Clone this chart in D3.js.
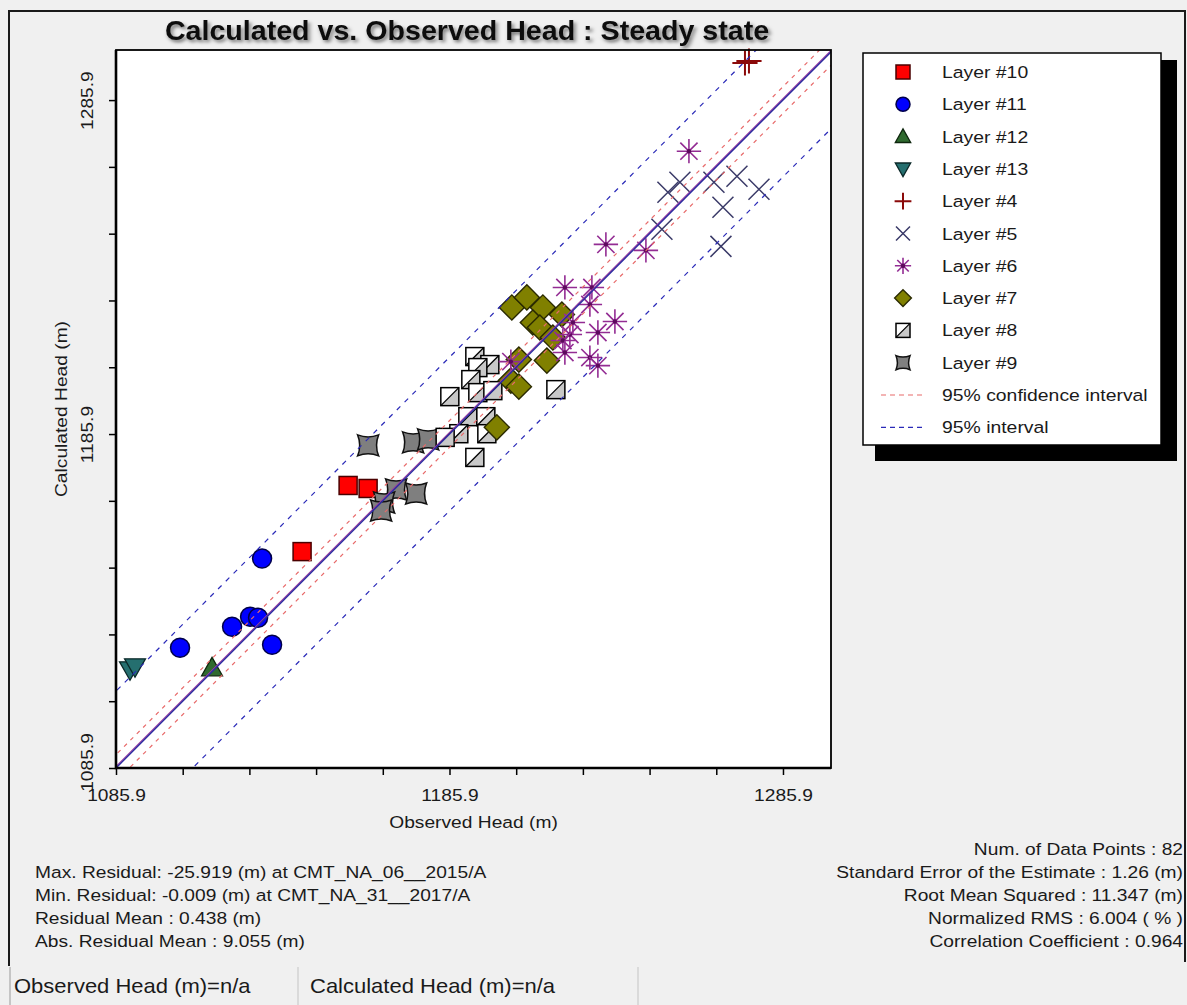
<!DOCTYPE html>
<html>
<head>
<meta charset="utf-8">
<script src="https://cdn.jsdelivr.net/npm/d3@7"></script>
<style>
  body { margin: 0; background: #f0f0f0; }
  svg text { font-family: Arial, "Liberation Sans", sans-serif; fill: #1a1a1a; }
</style>
</head>
<body>
<div id="chart"></div>
<script>
// observed / calculated head pairs, per layer
const layer10 = [[1155.5, 1170.5], [1161.5, 1169.6], [1141.7, 1150.7]];
const layer11 = [[1129.7, 1148.6], [1126.1, 1131.2], [1128.5, 1130.9], [1120.7, 1128.2], [1132.7, 1122.8], [1105.1, 1121.9]];
const layer12 = [[1114.7, 1115.9]];
const layer13 = [[1090.1, 1115.3], [1091.6, 1116.2]];
const layer4 = [[1274.5, 1297.0], [1275.7, 1297.6]];
const layer5 = [[1251.4, 1258.3], [1255.0, 1261.3], [1265.2, 1261.3], [1272.1, 1263.1], [1278.7, 1259.2],
                [1267.9, 1253.8], [1249.6, 1247.2], [1267.3, 1242.1]];
const layer6 = [[1257.7, 1270.6], [1232.8, 1242.7], [1244.8, 1240.9], [1220.5, 1229.8], [1228.6, 1229.8],
                [1228.0, 1224.7], [1235.5, 1219.6], [1222.9, 1219.3], [1230.4, 1216.3], [1222.0, 1215.7],
                [1219.9, 1213.9], [1220.5, 1210.3], [1228.0, 1208.8], [1230.4, 1206.4], [1204.3, 1207.6]];
const layer7 = [[1204.6, 1223.8], [1209.1, 1226.8], [1213.9, 1223.8], [1219.6, 1221.7], [1210.9, 1219.3],
                [1213.0, 1217.8], [1216.9, 1214.8], [1215.1, 1207.9], [1206.7, 1208.2], [1204.3, 1201.9],
                [1206.7, 1200.1], [1200.1, 1187.9]];
const layer8 = [[1193.5, 1209.1], [1198.0, 1206.7], [1194.4, 1205.8], [1192.3, 1202.2], [1194.4, 1198.3],
                [1198.9, 1198.9], [1186.0, 1197.1], [1217.8, 1199.2], [1191.4, 1191.1], [1196.8, 1191.1],
                [1188.7, 1186.0], [1184.6, 1184.9], [1197.1, 1186.0], [1193.5, 1178.9]];
const layer9 = [[1161.5, 1182.5], [1175.0, 1183.4], [1179.5, 1184.3], [1169.9, 1169.3], [1175.9, 1168.1],
                [1166.3, 1165.4], [1165.4, 1163.0]];

const legendNames = ["Layer #10", "Layer #11", "Layer #12", "Layer #13", "Layer #4", "Layer #5",
                     "Layer #6", "Layer #7", "Layer #8", "Layer #9"];
const lineNames = ["95% confidence interval", "95% interval"];

const axisMin = 1085.9;
const xMax = 1300.3;
const yMax = 1300.9;
const tickValues = [1085.9, 1105.9, 1125.9, 1145.9, 1165.9, 1185.9, 1205.9, 1225.9, 1245.9, 1265.9, 1285.9];
const tickLabels = ["1085.9", "1185.9", "1285.9"];
const ciOffsets = [-4, 4];
const piOffsets = [-23, 23];

const leftStats = [
  "Max. Residual: -25.919 (m) at CMT_NA_06__2015/A",
  "Min. Residual: -0.009 (m) at CMT_NA_31__2017/A",
  "Residual Mean : 0.438 (m)",
  "Abs. Residual Mean : 9.055 (m)"
];
const rightStats = [
  "Num. of Data Points : 82",
  "Standard Error of the Estimate : 1.26 (m)",
  "Root Mean Squared : 11.347 (m)",
  "Normalized RMS : 6.004 ( % )",
  "Correlation Coefficient : 0.964"
];
const statusItems = ["Observed Head (m)=n/a", "Calculated Head (m)=n/a"];

const W = 1187, H = 1005;
const plot = { left: 116, top: 50, right: 831, bottom: 768 };
const SX = 1.13; // screenshot text is a bit wider than Arial

const svg = d3.select("#chart").append("svg")
  .attr("width", W)
  .attr("height", H);

const defs = svg.append("defs");
const shadow = defs.append("filter").attr("id", "tshadow")
  .attr("x", "-5%").attr("y", "-30%").attr("width", "110%").attr("height", "160%");
shadow.append("feDropShadow")
  .attr("dx", 2).attr("dy", 2.5).attr("stdDeviation", 1.8)
  .attr("flood-color", "#000").attr("flood-opacity", 0.5);
defs.append("clipPath").attr("id", "plotclip")
  .append("rect")
  .attr("x", plot.left).attr("y", plot.top)
  .attr("width", plot.right - plot.left).attr("height", plot.bottom - plot.top);

function label(parent, x, y, str, opt = {}) {
  const rot = opt.rot ? ` rotate(${opt.rot})` : "";
  return parent.append("text")
    .attr("transform", `translate(${x},${y})${rot} scale(${opt.sx || SX},1)`)
    .attr("text-anchor", opt.anchor || "start")
    .style("font-size", (opt.size || 17) + "px")
    .style("font-weight", opt.weight || "normal")
    .text(str);
}

// outer window frame
svg.append("path")
  .attr("d", "M9,966 V11 H1185 V962")
  .attr("fill", "none")
  .attr("stroke", "#1a1a1a")
  .attr("stroke-width", 2);

// title
label(svg, 467, 40, "Calculated vs. Observed Head : Steady state",
  { anchor: "middle", size: 27, weight: "bold", sx: 1.06 })
  .attr("filter", "url(#tshadow)")
  .style("fill", "#111");

const x = d3.scaleLinear().domain([axisMin, xMax]).range([plot.left, plot.right]);
const y = d3.scaleLinear().domain([axisMin, yMax]).range([plot.bottom, plot.top]);

svg.append("rect")
  .attr("x", plot.left).attr("y", plot.top)
  .attr("width", plot.right - plot.left).attr("height", plot.bottom - plot.top)
  .attr("fill", "#fff");

// axes
const fmt = d => { const s = d.toFixed(1); return tickLabels.includes(s) ? s : ""; };

const xAxis = svg.append("g")
  .attr("transform", `translate(0,${plot.bottom})`)
  .call(d3.axisBottom(x).tickValues(tickValues).tickSize(7).tickFormat(fmt));
xAxis.selectAll("text")
  .attr("y", 0).attr("dy", 0)
  .attr("transform", `translate(0,33) scale(${SX},1)`)
  .style("font-size", "17px")
  .style("font-family", "Arial, 'Liberation Sans', sans-serif")
  .attr("fill", "#1a1a1a");

const yAxis = svg.append("g")
  .attr("transform", `translate(${plot.left},0)`)
  .call(d3.axisLeft(y).tickValues(tickValues).tickSize(7).tickFormat(fmt));
yAxis.selectAll("text")
  .attr("x", 0).attr("dy", 0)
  .attr("text-anchor", "middle")
  .attr("transform", d => `translate(-23,${d < 1100 ? -6 : 0}) rotate(-90) scale(${SX},1)`)
  .style("font-size", "17px")
  .style("font-family", "Arial, 'Liberation Sans', sans-serif")
  .attr("fill", "#1a1a1a");

[xAxis, yAxis].forEach(a => {
  a.select(".domain").remove();
  a.selectAll(".tick line").attr("stroke", "#000").attr("stroke-width", 1.5);
});

label(svg, (plot.left + plot.right) / 2, 828, "Observed Head (m)", { anchor: "middle" });
label(svg, 67, (plot.top + plot.bottom) / 2, "Calculated Head (m)", { anchor: "middle", rot: -90 });

// marker shapes
const shapes = {
  "Layer #10": (g, s) => g.append("rect")
    .attr("x", -s / 2).attr("y", -s / 2).attr("width", s).attr("height", s)
    .attr("fill", "#ff0000").attr("stroke", "#4a0000").attr("stroke-width", 1.5),
  "Layer #11": (g, s) => g.append("circle")
    .attr("r", s / 2)
    .attr("fill", "#0000ff").attr("stroke", "#00004a").attr("stroke-width", 1.5),
  "Layer #12": (g, s) => g.append("path")
    .attr("d", `M0,${-s * 0.55}L${s * 0.55},${s * 0.42}L${-s * 0.55},${s * 0.42}Z`)
    .attr("fill", "#2f6a2f").attr("stroke", "#0d260d").attr("stroke-width", 1.3),
  "Layer #13": (g, s) => g.append("path")
    .attr("d", `M0,${s * 0.55}L${s * 0.55},${-s * 0.42}L${-s * 0.55},${-s * 0.42}Z`)
    .attr("fill", "#256f6f").attr("stroke", "#0b2828").attr("stroke-width", 1.3),
  "Layer #4": (g, s) => g.append("path")
    .attr("d", `M${-s * 0.6},0H${s * 0.6}M0,${-s * 0.6}V${s * 0.6}`)
    .attr("stroke", "#8b0a0a").attr("stroke-width", 2).attr("fill", "none"),
  "Layer #5": (g, s) => g.append("path")
    .attr("d", `M${-s * 0.5},${-s * 0.5}L${s * 0.5},${s * 0.5}M${-s * 0.5},${s * 0.5}L${s * 0.5},${-s * 0.5}`)
    .attr("stroke", "#3a3a68").attr("stroke-width", 1.5).attr("fill", "none"),
  "Layer #6": (g, s) => {
    const r = s * 0.58, d = r * 0.7071;
    g.append("path")
      .attr("d", `M${-r},0H${r}M0,${-r}V${r}M${-d},${-d}L${d},${d}M${-d},${d}L${d},${-d}`)
      .attr("stroke", "#932c93").attr("stroke-width", 1.6).attr("fill", "none");
    g.append("circle").attr("r", 2.2).attr("fill", "#5c0a5c");
  },
  "Layer #7": (g, s) => g.append("path")
    .attr("d", `M0,${-s * 0.6}L${s * 0.6},0L0,${s * 0.6}L${-s * 0.6},0Z`)
    .attr("fill", "#808000").attr("stroke", "#2a2a00").attr("stroke-width", 1.4),
  "Layer #8": (g, s) => {
    const h = s / 2;
    g.append("rect").attr("x", -h).attr("y", -h).attr("width", s).attr("height", s)
      .attr("fill", "#fff");
    g.append("path").attr("d", `M${-h},${h}L${h},${-h}L${h},${h}Z`).attr("fill", "#c8c8c8");
    g.append("path").attr("d", `M${-h},${h}L${h},${-h}`).attr("stroke", "#000").attr("stroke-width", 1.3);
    g.append("rect").attr("x", -h).attr("y", -h).attr("width", s).attr("height", s)
      .attr("fill", "none").attr("stroke", "#000").attr("stroke-width", 1.5);
  },
  "Layer #9": (g, s) => {
    const h = s / 2, c = h * 0.6;
    g.append("path")
      .attr("d", `M${-h},${-h}Q0,${-c} ${h},${-h}Q${c},0 ${h},${h}Q0,${c} ${-h},${h}Q${-c},0 ${-h},${-h}Z`)
      .attr("fill", "#7f7f7f").attr("stroke", "#111").attr("stroke-width", 1.5);
  }
};

const series = [
  ["Layer #13", layer13], ["Layer #12", layer12], ["Layer #11", layer11], ["Layer #10", layer10],
  ["Layer #9", layer9], ["Layer #8", layer8], ["Layer #7", layer7], ["Layer #6", layer6],
  ["Layer #5", layer5], ["Layer #4", layer4]
];
const markerSize = { "Layer #10": 18, "Layer #11": 19, "Layer #12": 19, "Layer #13": 19, "Layer #4": 21,
  "Layer #5": 21, "Layer #6": 21, "Layer #7": 21, "Layer #8": 18, "Layer #9": 21 };

const pts = svg.append("g");
series.forEach(([name, data]) => {
  pts.append("g")
    .selectAll("g")
    .data(data)
    .join("g")
    .attr("transform", d => `translate(${x(d[0])},${y(d[1])})`)
    .each(function() { shapes[name](d3.select(this), markerSize[name]); });
});

// 1:1 line and intervals
const lines = svg.append("g").attr("clip-path", "url(#plotclip)");
const lineGen = d3.line().x(d => x(d[0])).y(d => y(d[1]));
const span = [axisMin - 30, yMax + 30];

piOffsets.forEach(o => lines.append("path")
  .attr("d", lineGen(span.map(v => [v, v + o])))
  .attr("fill", "none").attr("stroke", "#2a2ab8").attr("stroke-width", 1.2)
  .attr("stroke-dasharray", "5,6"));
ciOffsets.forEach(o => lines.append("path")
  .attr("d", lineGen(span.map(v => [v, v + o])))
  .attr("fill", "none").attr("stroke", "#e86a6a").attr("stroke-width", 1.2)
  .attr("stroke-dasharray", "4,5"));
lines.append("path")
  .attr("d", lineGen(span.map(v => [v, v + 0.44])))
  .attr("fill", "none").attr("stroke", "#9a3aa0").attr("stroke-width", 1.2);
lines.append("path")
  .attr("d", lineGen(span.map(v => [v, v])))
  .attr("fill", "none").attr("stroke", "#2a2aa0").attr("stroke-width", 1.4);

// plot border, left and bottom axes drawn heavier
svg.append("rect")
  .attr("x", plot.left).attr("y", plot.top)
  .attr("width", plot.right - plot.left).attr("height", plot.bottom - plot.top)
  .attr("fill", "none").attr("stroke", "#000").attr("stroke-width", 1.8);
svg.append("path")
  .attr("d", `M${plot.left},${plot.top}V${plot.bottom}H${plot.right}`)
  .attr("fill", "none").attr("stroke", "#000").attr("stroke-width", 2.6);

// legend
const lg = svg.append("g");
lg.append("rect").attr("x", 875).attr("y", 60).attr("width", 302).attr("height", 401).attr("fill", "#000");
lg.append("rect").attr("x", 863).attr("y", 53).attr("width", 298).attr("height", 392)
  .attr("fill", "#fff").attr("stroke", "#000").attr("stroke-width", 1.5);

const rowY = i => 72 + i * 32.3;
legendNames.forEach((name, i) => {
  const g = lg.append("g").attr("transform", `translate(903,${rowY(i)})`);
  shapes[name](g, 14);
  label(lg, 942, rowY(i) + 6, name, { sx: 1.14 });
});
const lineColors = ["#e86a6a", "#2a2ab8"];
lineNames.forEach((name, i) => {
  const yy = rowY(legendNames.length + i);
  lg.append("line").attr("x1", 881).attr("x2", 922).attr("y1", yy).attr("y2", yy)
    .attr("stroke", lineColors[i]).attr("stroke-width", 1.2).attr("stroke-dasharray", "5,4");
  label(lg, 942, yy + 6, name, { sx: 1.14 });
});

// statistics
leftStats.forEach((s, i) => label(svg, 35, 878 + i * 23, s));
rightStats.forEach((s, i) => label(svg, 1183, 855 + i * 23, s, { anchor: "end" }));

// status bar
svg.append("line").attr("x1", 10).attr("x2", 10).attr("y1", 967).attr("y2", H)
  .attr("stroke", "#9a9a9a");
[298, 638].forEach(px => svg.append("line")
  .attr("x1", px).attr("x2", px).attr("y1", 967).attr("y2", H)
  .attr("stroke", "#c4c4c4"));
label(svg, 14, 993, statusItems[0], { size: 20, sx: 1.1 });
label(svg, 310, 993, statusItems[1], { size: 20, sx: 1.1 });
</script>
</body>
</html>
